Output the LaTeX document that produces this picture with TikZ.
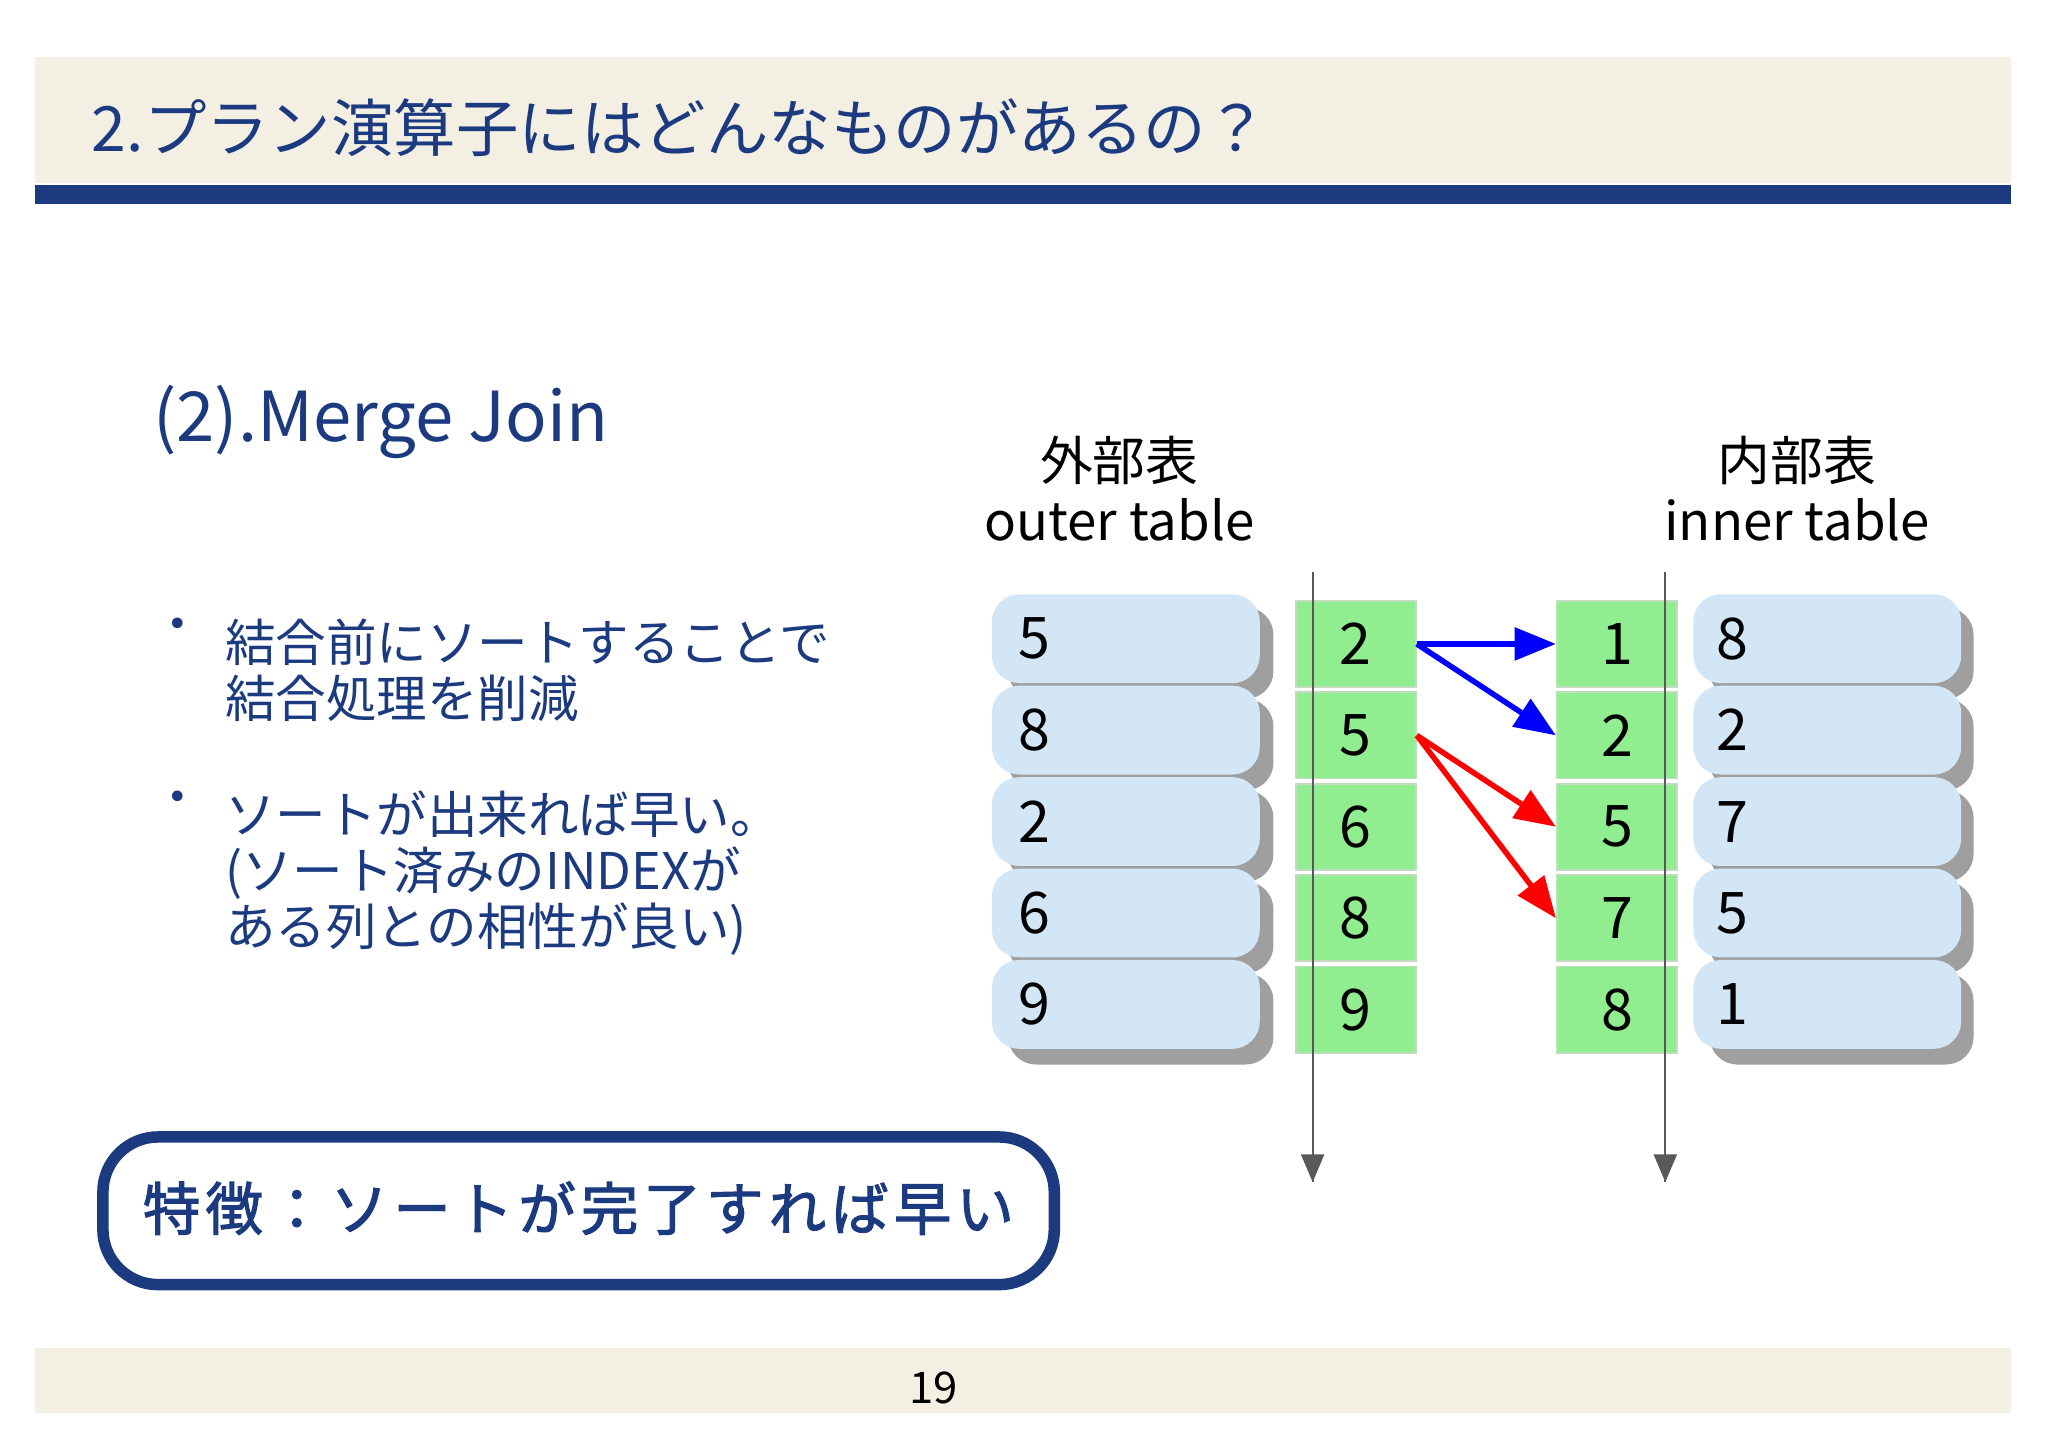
\documentclass[tikz,border=0pt]{standalone}
\usepackage{fontspec}
\setmainfont{Noto Sans CJK JP}
\newfontfamily\jpb[FakeBold=2,LetterSpace=9]{Noto Sans CJK JP}
\usetikzlibrary{arrows.meta,shadows}
\definecolor{navy}{HTML}{1B3A80}
\definecolor{band}{HTML}{F3EFE3}
\definecolor{lblue}{HTML}{D3E6F6}
\definecolor{lgreen}{HTML}{90EE90}
\tikzset{
 obox/.style={fill=lblue,rounded corners=6,minimum width=2.05cm,minimum height=0.68cm,draw=none},
 shad/.style={fill=gray!75,rounded corners=6},
 gbox/.style={fill=lgreen,draw=lgreen!70!black!40,minimum width=0.92cm,minimum height=0.66cm,font=\fontsize{12.5}{14}\selectfont},
 num/.style={font=\fontsize{12.5}{14}\selectfont,anchor=west},
 lbl/.style={font=\fontsize{11.5}{13}\selectfont,align=center},
 body/.style={font=\fontsize{11}{12.2}\selectfont,text=navy,anchor=north west,align=left},
 timeline/.style={draw=gray!70!black,line width=0.4pt,-{Triangle[length=6pt,width=5pt]}},
 barr/.style={draw=blue,line width=1.2pt,-{Triangle[length=9pt,width=7pt]}},
 rarr/.style={draw=red,line width=1.2pt,-{Triangle[length=9pt,width=7pt]}}
}
\begin{document}
\begin{tikzpicture}[x=0.01cm,y=-0.01cm]
\useasboundingbox (0,0) rectangle (1568,1108);
\fill[white] (0,0) rectangle (1568,1108);
\fill[band] (27,44) rectangle (1540,140);
\fill[navy] (27,142) rectangle (1540,156);
\node[anchor=west,text=navy,font=\fontsize{13.6}{15}\selectfont] (title) at (58,98) {2.プラン演算子にはどんなものがあるの？};
\fill[band] (27,1032) rectangle (1540,1082);
\node[font=\fontsize{9.5}{11}\selectfont] (page) at (715,1063) {19};
\node[anchor=west,text=navy,font=\fontsize{15}{17}\selectfont] (mj) at (105,323) {(2).Merge Join};
\node[body] (b1) at (104,461) {・};
\node[body] (t1) at (160,461) {結合前にソートすることで\\結合処理を削減};
\node[body] (b2) at (104,593) {・};
\node[body] (t2) at (160,593) {ソートが出来れば早い。\\(ソート済みのINDEXが\\ある列との相性が良い)};
\node[draw=navy,line width=2.5pt,rounded corners=12,minimum width=7.28cm,minimum height=1.13cm] (feat) at (443,927) {};
\node[anchor=west,text=navy,font=\jpb\fontsize{12.5}{14}\selectfont] (feattxt) at (97,925) {特徴：ソートが完了すれば早い};
\node[lbl] (ol) at (857,374) {外部表\\outer table};
\node[lbl] (il) at (1376,374) {内部表\\inner table};
\coordinate (la) at (1005,438); \coordinate (lb) at (1005,905);
\coordinate (ra) at (1275,438); \coordinate (rb) at (1275,905);
\draw[timeline] (la) -- (lb);
\draw[timeline] (ra) -- (rb);
\foreach \v/\y [count=\i] in {5/489,8/559,2/629,6/699,9/769}{
 \fill[shad] (772,\y-24) rectangle (975,\y+46);
 \node[obox] (o\i) at (862,\y) {};
 \node[num] at (767,\y) {\v};
}
\foreach \v/\y [count=\i] in {8/489,2/559,7/629,5/699,1/769}{
 \fill[shad] (1309,\y-24) rectangle (1511,\y+46);
 \node[obox] (ib\i) at (1399,\y) {};
 \node[num] at (1302,\y) {\v};
}
\foreach \v/\y [count=\i] in {2/493,5/563,6/633,8/703,9/773}{
 \node[gbox] (g\i) at (1038,\y) {\v};
}
\foreach \v/\y [count=\i] in {1/493,2/563,5/633,7/703,8/773}{
 \node[gbox] (h\i) at (1238,\y) {\v};
}
\draw[timeline,-] (la) -- (lb);
\draw[timeline,-] (ra) -- (rb);
\draw[barr] (g1.east) -- (h1.west);
\draw[barr] (g1.east) -- (h2.west);
\draw[rarr] (g2.east) -- (h3.west);
\draw[rarr] (g2.east) -- (h4.west);
\end{tikzpicture}
\end{document}
